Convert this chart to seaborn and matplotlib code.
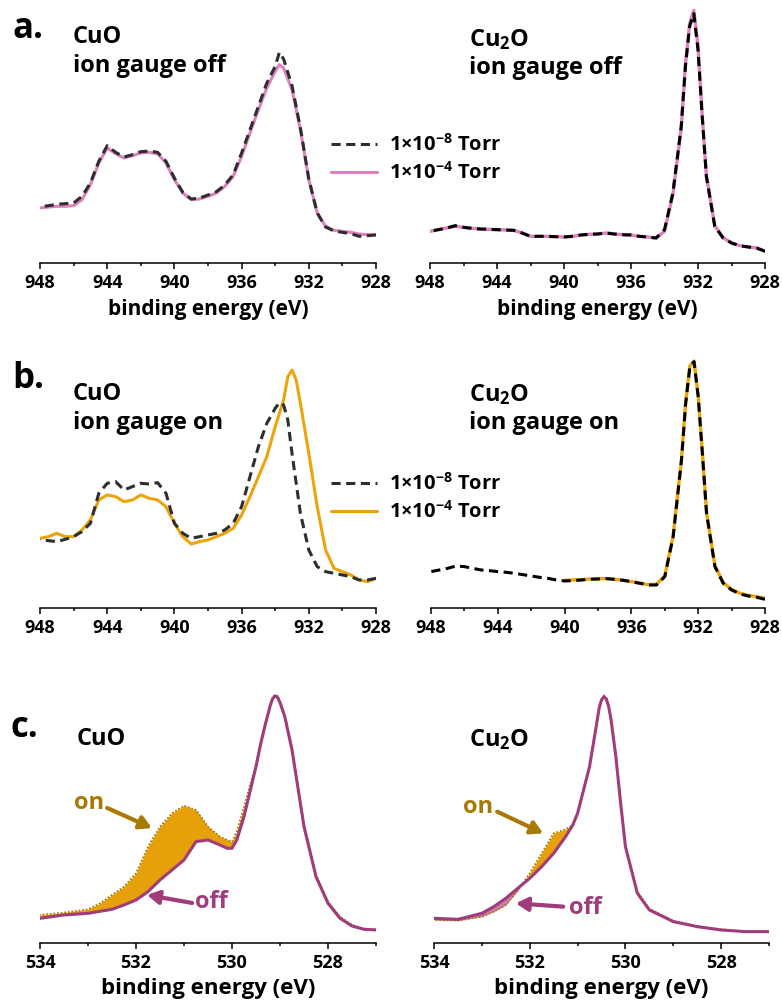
import numpy as np
import matplotlib
matplotlib.use("Agg")
import matplotlib.pyplot as plt
import seaborn as sns

# ---- data (intensities in arbitrary units) ----
# panel a, CuO, ion gauge off
e_a_cuo = [948, 947.5, 947, 946.5, 946, 945.5, 945, 944.5, 944, 943.5, 943, 942.5, 942, 941.5,
           941, 940.5, 940, 939.5, 939, 938.5, 938, 937.5, 937, 936.5, 936, 935.5, 935, 934.5,
           934, 933.75, 933.5, 933, 932.5, 932, 931.5, 931, 930.5, 930, 929.5, 929, 928.5, 928]
a_cuo_low = [168, 172, 176, 178, 180, 200, 240, 305, 352, 332, 318, 325, 334, 336,
             332, 305, 255, 212, 192, 195, 204, 214, 234, 265, 330, 400, 470, 540,
             590, 632, 612, 532, 405, 252, 150, 108, 96, 92, 88, 80, 82, 84]
a_cuo_high = [165, 168, 170, 170, 172, 190, 235, 300, 345, 328, 315, 322, 330, 332,
              328, 300, 250, 210, 190, 192, 200, 210, 230, 260, 320, 390, 460, 525,
              575, 595, 585, 520, 400, 250, 150, 110, 98, 95, 92, 87, 85, 85]

# panel a, Cu2O, ion gauge off
e_a_cu2o = [948, 947.5, 947, 946.5, 946, 945.5, 945, 944.5, 944, 943.5, 943, 942.5, 942, 941.5,
            941, 940.5, 940, 939.5, 939, 938.5, 938, 937.5, 937, 936.5, 936, 935.5, 935, 934.5,
            934, 933.5, 933, 932.75, 932.5, 932.25, 932, 931.75, 931.5, 931, 930.5, 930, 929.5,
            929, 928.5, 928]
a_cu2o_low = [95, 100, 105, 112, 107, 104, 102, 101, 100, 99, 98, 90, 80, 80,
              80, 79, 78, 80, 84, 86, 87, 90, 87, 85, 84, 80, 78, 75,
              100, 210, 410, 590, 710, 748, 640, 440, 260, 110, 75, 60, 52,
              48, 45, 35]
a_cu2o_high = [95, 100, 105, 110, 107, 104, 102, 101, 100, 99, 98, 90, 80, 80,
               80, 79, 78, 80, 84, 86, 87, 90, 87, 85, 84, 80, 78, 75,
               95, 205, 405, 595, 718, 758, 650, 445, 262, 112, 76, 60, 52,
               48, 45, 36]

# panel b, CuO, ion gauge on
e_b_cuo = [948, 947.5, 947, 946.5, 946, 945.5, 945, 944.5, 944, 943.5, 943, 942.5, 942, 941.5,
           941, 940.5, 940, 939.5, 939, 938.5, 938, 937.5, 937, 936.5, 936, 935.5, 935, 934.5,
           934, 933.75, 933.5, 933.25, 933, 932.75, 932.5, 932, 931.5, 931, 930.5, 930, 929.5,
           929, 928.5, 928]
b_cuo_low = [205, 203, 200, 207, 215, 230, 255, 345, 375, 380, 355, 365, 375, 373,
             377, 345, 255, 225, 210, 215, 220, 225, 235, 255, 305, 395, 485, 555,
             600, 617, 610, 565, 465, 375, 285, 175, 125, 110, 105, 100, 95,
             85, 85, 90]
b_cuo_high = [210, 215, 225, 215, 215, 235, 265, 325, 340, 335, 320, 325, 340, 330,
              325, 305, 255, 215, 193, 200, 205, 215, 225, 240, 280, 335, 395, 455,
              545, 585, 625, 695, 715, 685, 615, 465, 305, 175, 120, 110, 100,
              85, 80, 90]

# panel b, Cu2O, ion gauge on
e_b_cu2o = [948, 947.5, 947, 946.5, 946, 945.5, 945, 944.5, 944, 943.5, 943, 942.5, 942, 941.5,
            941, 940.5, 940, 939.5, 939, 938.5, 938, 937.5, 937, 936.5, 936, 935.5, 935, 934.5,
            934, 933.5, 933, 932.75, 932.5, 932.25, 932, 931.75, 931.5, 931, 930.5, 930, 929.5,
            929, 928.5, 928]
b_cu2o_low = [110, 115, 120, 127, 125, 120, 115, 113, 110, 108, 105, 101, 97, 93,
              90, 85, 82, 83, 85, 87, 88, 89, 87, 84, 80, 75, 70, 70,
              95, 215, 445, 615, 725, 740, 635, 465, 285, 125, 75, 55, 43,
              37, 33, 27]
e_b_cu2o_high = [940, 939.5, 939, 938.5, 938, 937.5, 937, 936.5, 936, 935.5, 935, 934.5,
                 934, 933.5, 933, 932.75, 932.5, 932.25, 932, 931.75, 931.5, 931, 930.5, 930,
                 929.5, 929, 928.5, 928]
b_cu2o_high = [84, 85, 86, 88, 89, 89, 87, 84, 80, 76, 71, 72,
               97, 218, 448, 618, 727, 742, 638, 468, 288, 128, 77, 57,
               45, 39, 35, 30]

# panel c, O 1s
e_c_cuo = [534, 533.5, 533, 532.75, 532.5, 532.25, 532, 531.75, 531.5, 531.25, 531, 530.75,
           530.5, 530.25, 530.1, 530, 529.9, 529.75, 529.5, 529.4, 529.3, 529.2, 529.15, 529.1,
           529.05, 529, 528.9, 528.75, 528.5, 528.25, 528, 527.75, 527.5, 527.25, 527]
c_cuo_off = [75, 85, 90, 96, 102, 115, 130, 155, 190, 220, 250, 305,
             310, 295, 285, 285, 310, 380, 530, 600, 660, 715, 735, 742,
             738, 722, 680, 580, 350, 200, 120, 75, 52, 42, 40]
c_cuo_on = [85, 92, 102, 120, 145, 170, 210, 290, 350, 390, 413, 400,
            350, 320, 310, 305, 335, 410, 538, 606, 666, 720, 740, 746,
            742, 727, 686, 588, 358, 206, 125, 80, 55, 44, 42]

e_c_cu2o = [534, 533.5, 533, 532.75, 532.5, 532.25, 532, 531.75, 531.5, 531.25, 531.1, 531,
            530.75, 530.6, 530.55, 530.5, 530.45, 530.4, 530.35, 530.3, 530.2, 530.1, 530,
            529.75, 529.5, 529, 528.5, 528, 527.5, 527]
c_cu2o_off = [75, 72, 90, 110, 135, 165, 195, 230, 270, 320, 355, 390,
              530, 660, 705, 730, 740, 733, 710, 670, 560, 420, 290,
              150, 100, 65, 50, 40, 35, 35]
c_cu2o_on = [70, 68, 80, 95, 115, 158, 210, 270, 330, 342, 355, 392,
             532, 664, 709, 734, 744, 737, 714, 674, 564, 424, 294,
             154, 104, 68, 52, 42, 36, 36]

labels = [r"1×10$^{-8}$ Torr", r"1×10$^{-4}$ Torr"]

# ---- styling ----
sns.set_style("white")
plt.rcParams["font.family"] = ["Open Sans", "DejaVu Sans"]
plt.rcParams["font.weight"] = "bold"
plt.rcParams["mathtext.default"] = "regular"
plt.rcParams["text.color"] = "black"
plt.rcParams["axes.labelcolor"] = "black"
plt.rcParams["xtick.color"] = "black"

DARK = "#2e2e2e"
PINK = "#dd80bd"
GOLD = "#eda40c"
PURPLE = "#a03c7c"
ORANGE = "#e5a00a"
ONCOL = "#a87a05"
PFILL = "#d07ab2"

W, H = 782, 1006
fig = plt.figure(figsize=(W / 100, H / 100), dpi=100)


def make_ax(x0, x1, y_axis, y_top):
    return fig.add_axes([x0 / W, 1 - y_axis / H, (x1 - x0) / W, (y_axis - y_top) / H])


def style_ax(ax, xlim, major, minor, ymax, lsize, fsize, lpad):
    ax.set_xlim(*xlim)
    ax.set_ylim(0, ymax)
    for s in ["left", "right", "top"]:
        ax.spines[s].set_visible(False)
    ax.spines["bottom"].set_linewidth(1.1)
    ax.spines["bottom"].set_color("black")
    ax.set_yticks([])
    ax.set_xticks(major)
    ax.set_xticks(minor, minor=True)
    ax.tick_params(axis="x", which="major", direction="out", length=4, width=1.1,
                   labelsize=lsize, pad=4, bottom=True, color="black", labelcolor="black")
    ax.tick_params(axis="x", which="minor", direction="out", length=2.5, width=1.1,
                   bottom=True, color="black")
    ax.set_xlabel("binding energy (eV)", fontsize=fsize, fontweight="bold", labelpad=lpad,
                  color="black")
    ax.set_ylabel("")


maj_ab = [948, 944, 940, 936, 932, 928]
min_ab = [946, 942, 938, 934, 930]
maj_c = [534, 532, 530, 528]
min_c = [533, 531, 529, 527]

dash = (0, (3, 1.8))

# row a
ax1 = make_ax(40, 376, 263, 0)
sns.lineplot(x=e_a_cuo, y=a_cuo_low, ax=ax1, color=DARK, lw=2.2, linestyle=dash, zorder=3)
sns.lineplot(x=e_a_cuo, y=a_cuo_high, ax=ax1, color=PINK, lw=2.2, zorder=2)
style_ax(ax1, (948, 928), maj_ab, min_ab, 789, 13, 15, 5)

ax2 = make_ax(430, 765, 263, 0)
sns.lineplot(x=e_a_cu2o, y=a_cu2o_high, ax=ax2, color=PINK, lw=2.4, zorder=2)
sns.lineplot(x=e_a_cu2o, y=a_cu2o_low, ax=ax2, color="black", lw=2.2, linestyle=dash, zorder=3)
style_ax(ax2, (948, 928), maj_ab, min_ab, 789, 13, 15, 5)

# row b
ax3 = make_ax(40, 376, 608.3, 320)
sns.lineplot(x=e_b_cuo, y=b_cuo_low, ax=ax3, color=DARK, lw=2.2, linestyle=dash, zorder=3)
sns.lineplot(x=e_b_cuo, y=b_cuo_high, ax=ax3, color=GOLD, lw=2.2, zorder=2)
style_ax(ax3, (948, 928), maj_ab, min_ab, 865, 13, 15, 5)

ax4 = make_ax(431, 765, 608.3, 320)
sns.lineplot(x=e_b_cu2o_high, y=b_cu2o_high, ax=ax4, color=GOLD, lw=2.4, zorder=2)
sns.lineplot(x=e_b_cu2o, y=b_cu2o_low, ax=ax4, color="black", lw=2.2, linestyle=dash, zorder=3)
style_ax(ax4, (948, 928), maj_ab, min_ab, 865, 13, 15, 5)

# row c
ax5 = make_ax(40, 376, 943.3, 640)
on = np.array(c_cuo_on)
off = np.array(c_cuo_off)
ax5.fill_between(e_c_cuo, on, off, where=on >= off, interpolate=True, color=ORANGE, lw=0)
sns.lineplot(x=e_c_cuo, y=c_cuo_on, ax=ax5, color="#b07c00", lw=1.3, linestyle=(0, (1, 1)), zorder=3)
sns.lineplot(x=e_c_cuo, y=c_cuo_off, ax=ax5, color=PURPLE, lw=2.2, zorder=4)
style_ax(ax5, (534, 527), maj_c, min_c, 910, 13, 16, 4)

ax6 = make_ax(434, 769, 943.3, 640)
on2 = np.array(c_cu2o_on)
off2 = np.array(c_cu2o_off)
ax6.fill_between(e_c_cu2o, on2, off2, where=on2 >= off2, interpolate=True, color=ORANGE, lw=0)
ax6.fill_between(e_c_cu2o, on2, off2, where=on2 < off2, interpolate=True, color=PFILL, lw=0)
sns.lineplot(x=e_c_cu2o, y=c_cu2o_on, ax=ax6, color="#b07c00", lw=1.3, linestyle=(0, (1, 1)), zorder=3)
sns.lineplot(x=e_c_cu2o, y=c_cu2o_off, ax=ax6, color=PURPLE, lw=2.2, zorder=4)
style_ax(ax6, (534, 527), maj_c, min_c, 910, 13, 16, 4)

# arrows and on/off labels in c
arrow_kw = dict(arrowstyle="-|>,head_length=0.7,head_width=0.4", lw=3, shrinkA=0, shrinkB=0)
ax5.annotate("", xy=(531.67, 346), xytext=(532.60, 406),
             arrowprops=dict(color=ONCOL, **arrow_kw))
ax5.text(532.98, 421, "on", color=ONCOL, fontsize=17, fontweight="bold", ha="center", va="center")
ax5.annotate("", xy=(531.77, 145), xytext=(530.83, 121),
             arrowprops=dict(color=PURPLE, **arrow_kw))
ax5.text(530.42, 124, "off", color=PURPLE, fontsize=17, fontweight="bold", ha="center", va="center")

ax6.annotate("", xy=(531.72, 330), xytext=(532.68, 395),
             arrowprops=dict(color=ONCOL, **arrow_kw))
ax6.text(533.07, 410, "on", color=ONCOL, fontsize=17, fontweight="bold", ha="center", va="center")
ax6.annotate("", xy=(532.29, 120), xytext=(531.30, 110),
             arrowprops=dict(color=PURPLE, **arrow_kw))
ax6.text(530.84, 105, "off", color=PURPLE, fontsize=17, fontweight="bold", ha="center", va="center")


def ftext(x, y, s, **kw):
    fig.text(x / W, 1 - y / H, s, color="black", **kw)


# panel letters
ftext(12, 38, "a.", fontsize=25, fontweight="bold", va="baseline")
ftext(12, 388, "b.", fontsize=25, fontweight="bold", va="baseline")
ftext(10, 737, "c.", fontsize=25, fontweight="bold", va="baseline")

# sample titles
tkw = dict(fontsize=17, fontweight="bold", va="top", linespacing=1.25)
ftext(73, 25, "CuO\nion gauge off", **tkw)
ftext(469, 27, "Cu$_2$O\nion gauge off", **tkw)
ftext(73, 382, "CuO\nion gauge on", **tkw)
ftext(469, 382, "Cu$_2$O\nion gauge on", **tkw)
ftext(77, 727, "CuO", **tkw)
ftext(469, 727, "Cu$_2$O", **tkw)

# legends
leg_kw = dict(frameon=False, prop=dict(weight="bold", size=14.5), handlelength=2.3,
              handletextpad=0.6, labelspacing=0.3, borderpad=0, borderaxespad=0,
              labelcolor="black")
la = ax1.get_lines()
fig.legend([la[0], la[1]], labels, loc="center left", bbox_to_anchor=(331 / W, 1 - 159 / H), **leg_kw)
lb = ax3.get_lines()
fig.legend([lb[0], lb[1]], labels, loc="center left", bbox_to_anchor=(331 / W, 1 - 498 / H), **leg_kw)

fig.savefig("out.png", dpi=100)
